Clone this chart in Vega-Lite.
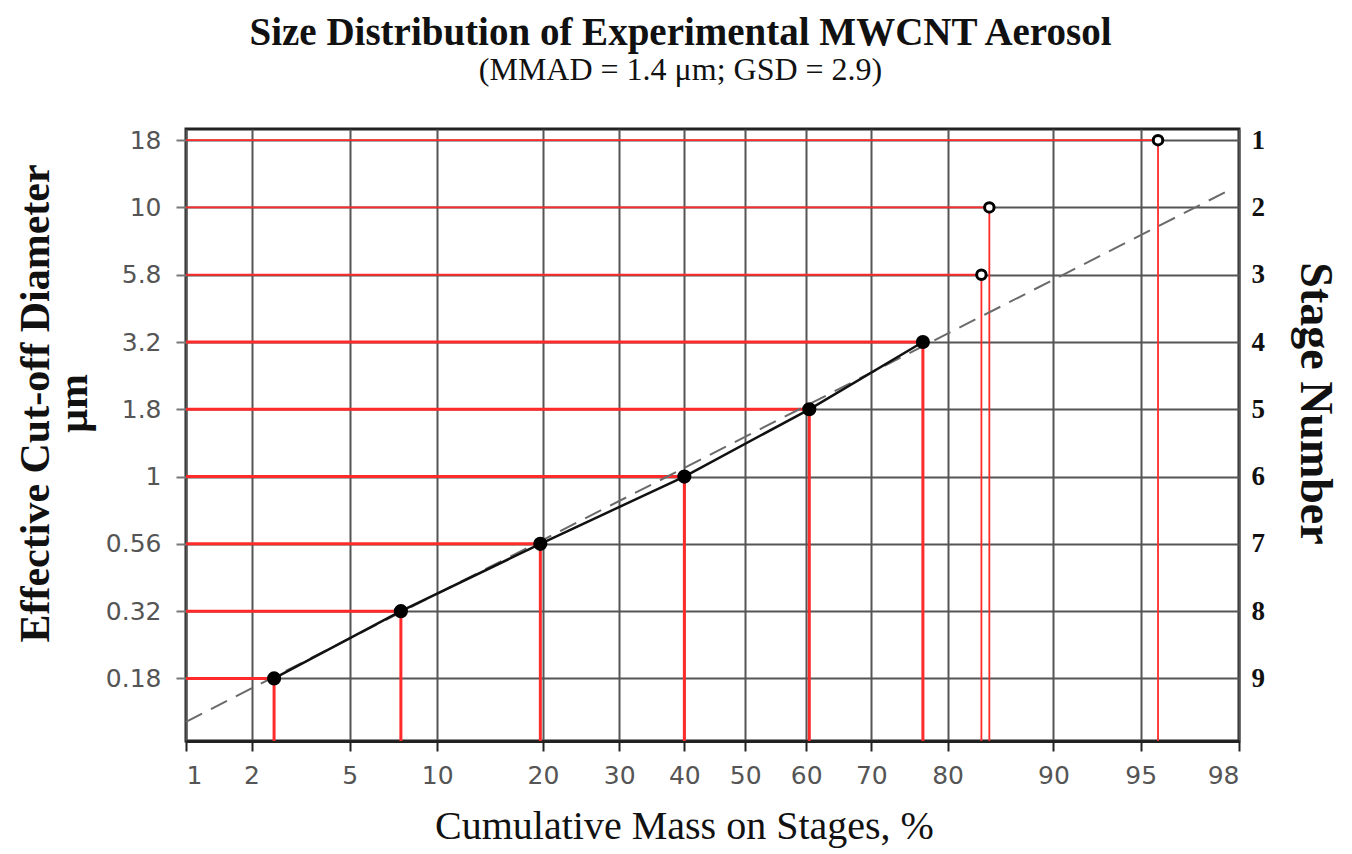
{
  "$schema": "https://vega.github.io/schema/vega-lite/v6.json",
  "autosize": "none",
  "width": 1053,
  "height": 612,
  "padding": {"left": 186, "top": 129, "right": 113, "bottom": 113},
  "background": "white",
  "title": {
    "text": "Size Distribution of Experimental MWCNT Aerosol",
    "subtitle": "(MMAD = 1.4 μm; GSD = 2.9)",
    "font": "Liberation Serif",
    "fontSize": 39,
    "fontWeight": "bold",
    "color": "#111",
    "subtitleFont": "Liberation Serif",
    "subtitleFontSize": 32,
    "subtitleColor": "#111",
    "subtitlePadding": 2,
    "anchor": "middle",
    "dx": -32,
    "offset": 40
  },
  "datasets": {
    "stages": [
      {"stage": 1, "diameter": 18, "pct": 95.7, "kind": "open"},
      {"stage": 2, "diameter": 10, "pct": 84.5, "kind": "open"},
      {"stage": 3, "diameter": 5.8, "pct": 83.7, "kind": "open"},
      {"stage": 4, "diameter": 3.2, "pct": 77.0, "kind": "filled"},
      {"stage": 5, "diameter": 1.8, "pct": 60.5, "kind": "filled"},
      {"stage": 6, "diameter": 1.0, "pct": 40.0, "kind": "filled"},
      {"stage": 7, "diameter": 0.56, "pct": 19.7, "kind": "filled"},
      {"stage": 8, "diameter": 0.32, "pct": 7.6, "kind": "filled"},
      {"stage": 9, "diameter": 0.18, "pct": 2.5, "kind": "filled"}
    ],
    "fit": [
      {"pct": 1.0, "stage": 9.645},
      {"pct": 97.8, "stage": 1.74}
    ]
  },
  "config": {
    "view": {"stroke": "#222", "strokeWidth": 3},
    "axis": {"gridColor": "#555", "gridWidth": 2, "gridOpacity": 1}
  },
  "resolve": {"axis": {"y": "independent"}},
  "layer": [
    {
      "data": {"name": "stages"},
      "transform": [{"calculate": "quantileNormal(datum.pct / 100)", "as": "z"}],
      "mark": {"type": "rule", "color": "#ff2b2b"},
      "encoding": {
        "x": {"field": "z", "type": "quantitative",
          "scale": {"domain": [-2.3263, 2.0537], "nice": false, "zero": false},
          "axis": {
            "title": "Cumulative Mass on Stages, %",
            "values": [-2.3263, -2.0537, -1.6449, -1.2816, -0.8416, -0.5244, -0.2533, 0, 0.2533, 0.5244, 0.8416, 1.2816, 1.6449, 2.0537],
            "labelExpr": "round(cumulativeNormal(datum.value) * 100)",
            "grid": true,
            "domainColor": "#222", "domainWidth": 3,
            "tickColor": "#222", "tickWidth": 2, "tickSize": 10,
            "labelFont": "DejaVu Sans", "labelFontSize": 25, "labelColor": "#555", "labelPadding": 12,
            "titleFont": "Liberation Serif", "titleFontSize": 40, "titleFontWeight": "normal", "titleColor": "#111",
            "titlePadding": 18, "titleX": 498
          }
        },
        "x2": {"datum": -2.3263},
        "y": {"field": "stage", "type": "quantitative",
          "scale": {"domain": [0.834, 9.93], "reverse": true, "nice": false, "zero": false},
          "axis": {
            "orient": "left",
            "values": [1, 2, 3, 4, 5, 6, 7, 8, 9],
            "labelExpr": "['', '18', '10', '5.8', '3.2', '1.8', '1', '0.56', '0.32', '0.18'][datum.value]",
            "grid": true,
            "domain": false,
            "tickColor": "#777", "tickWidth": 2, "tickSize": 10,
            "labelFont": "DejaVu Sans", "labelFontSize": 25, "labelColor": "#555", "labelPadding": 15,
            "title": ["Effective Cut-off Diameter", "µm"],
            "titleFont": "Liberation Serif", "titleFontSize": 42, "titleFontWeight": "bold", "titleColor": "#111",
            "titleLineHeight": 38,
            "titlePadding": 10,
            "titleY": 274
          }
        },
        "strokeWidth": {"field": "kind", "type": "nominal", "scale": {"domain": ["open", "filled"], "range": [1.8, 3]}, "legend": null}
      }
    },
    {
      "data": {"name": "stages"},
      "transform": [{"calculate": "quantileNormal(datum.pct / 100)", "as": "z"}],
      "mark": {"type": "rule", "color": "#ff2b2b"},
      "encoding": {
        "x": {"field": "z", "type": "quantitative"},
        "y": {"field": "stage", "type": "quantitative",
          "axis": {
            "orient": "right",
            "values": [1, 2, 3, 4, 5, 6, 7, 8, 9],
            "format": "d",
            "grid": false,
            "domain": false,
            "ticks": false,
            "labelFont": "Liberation Serif", "labelFontSize": 27, "labelFontWeight": "bold", "labelColor": "#111", "labelPadding": 12,
            "title": "Stage Number",
            "titleFont": "Liberation Serif", "titleFontSize": 46, "titleFontWeight": "bold", "titleColor": "#111",
            "titleAngle": 90,
            "titlePadding": 26,
            "titleY": 274
          }
        },
        "y2": {"datum": 9.93},
        "strokeWidth": {"field": "kind", "type": "nominal", "scale": {"domain": ["open", "filled"], "range": [1.8, 3]}, "legend": null}
      }
    },
    {
      "data": {"name": "fit"},
      "transform": [{"calculate": "quantileNormal(datum.pct / 100)", "as": "z"}],
      "mark": {"type": "line", "color": "#6a6a6a", "strokeWidth": 2, "strokeDash": [18, 10]},
      "encoding": {
        "x": {"field": "z", "type": "quantitative"},
        "y": {"field": "stage", "type": "quantitative", "axis": null}
      }
    },
    {
      "data": {"name": "stages"},
      "transform": [
        {"filter": "datum.kind === 'filled'"},
        {"calculate": "quantileNormal(datum.pct / 100)", "as": "z"}
      ],
      "mark": {"type": "line", "color": "#111", "strokeWidth": 2.5},
      "encoding": {
        "x": {"field": "z", "type": "quantitative"},
        "y": {"field": "stage", "type": "quantitative", "axis": null},
        "order": {"field": "stage", "type": "quantitative"}
      }
    },
    {
      "data": {"name": "stages"},
      "transform": [
        {"filter": "datum.kind === 'filled'"},
        {"calculate": "quantileNormal(datum.pct / 100)", "as": "z"}
      ],
      "mark": {"type": "point", "shape": "circle", "filled": true, "color": "#000", "size": 200, "opacity": 1},
      "encoding": {
        "x": {"field": "z", "type": "quantitative"},
        "y": {"field": "stage", "type": "quantitative", "axis": null}
      }
    },
    {
      "data": {"name": "stages"},
      "transform": [
        {"filter": "datum.kind === 'open'"},
        {"calculate": "quantileNormal(datum.pct / 100)", "as": "z"}
      ],
      "mark": {"type": "point", "shape": "circle", "filled": false, "fill": "white", "fillOpacity": 1, "stroke": "#000", "strokeWidth": 3, "size": 90, "opacity": 1},
      "encoding": {
        "x": {"field": "z", "type": "quantitative"},
        "y": {"field": "stage", "type": "quantitative", "axis": null}
      }
    }
  ]
}
